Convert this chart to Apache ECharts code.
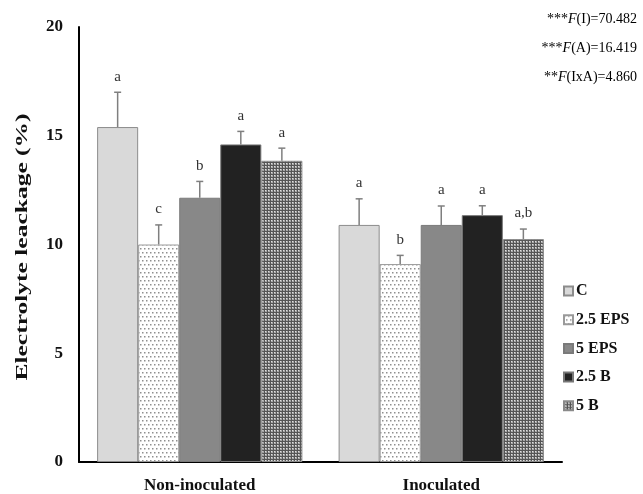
<!DOCTYPE html>
<html><head><meta charset="utf-8">
<script src="https://cdn.jsdelivr.net/npm/echarts@6/dist/echarts.min.js"></script>
<style>html,body{margin:0;padding:0;background:#fff}#c{width:643px;height:494px}</style>
</head><body><div id="c"></div>
<script>
const categories = ['Non-inoculated', 'Inoculated'];
const seriesNames = ['C', '2.5 EPS', '5 EPS', '2.5 B', '5 B'];
const valC = [15.4, 10.9];
const valEPS25 = [10.0, 9.1];
const valEPS5 = [12.15, 10.9];
const valB25 = [14.6, 11.35];
const valB5 = [13.85, 10.25];
const errC = [1.6, 1.2];
const errEPS25 = [0.9, 0.4];
const errEPS5 = [0.75, 0.87];
const errB25 = [0.6, 0.43];
const errB5 = [0.58, 0.46];
const letC = ['a', 'a'];
const letEPS25 = ['c', 'b'];
const letEPS5 = ['b', 'a'];
const letB25 = ['a', 'a'];
const letB5 = ['a', 'a,b'];
const yTicks = [0, 5, 10, 15, 20];

const values = [valC, valEPS25, valEPS5, valB25, valB5];
const errs = [errC, errEPS25, errEPS5, errB25, errB5];
const lets = [letC, letEPS25, letEPS5, letB25, letB5];

function dotPattern() {
  const c = document.createElement('canvas'); c.width = 8; c.height = 8;
  const g = c.getContext('2d');
  g.fillStyle = '#ffffff'; g.fillRect(0, 0, 8, 8);
  g.fillStyle = '#8f8f8f';
  g.fillRect(0, 0, 1.5, 1.5); g.fillRect(4, 0, 1.5, 1.5);
  g.fillRect(2, 4, 1.5, 1.5); g.fillRect(6, 4, 1.5, 1.5);
  return c;
}
function gridPattern() {
  const c = document.createElement('canvas'); c.width = 3; c.height = 3;
  const g = c.getContext('2d');
  g.fillStyle = '#555555'; g.fillRect(0, 0, 3, 3);
  g.fillStyle = '#a8a8a8'; g.fillRect(1, 1, 2, 2);
  g.fillStyle = '#e0e0e0'; g.fillRect(1, 1, 1, 1);
  return c;
}
const colors = [
  '#d9d9d9',
  { image: dotPattern(), repeat: 'repeat' },
  '#888888',
  '#222222',
  { image: gridPattern(), repeat: 'repeat' }
];
const borders = ['#8c8c8c', '#9a9a9a', '#7a7a7a', '#777777', '#8a8a8a'];
const serif = 'Liberation Serif';
const gapPct = 15;

const series = [];
seriesNames.forEach((n, i) => {
  series.push({
    name: n, type: 'bar', data: values[i],
    barGap: '0%', barCategoryGap: gapPct + '%',
    itemStyle: { color: colors[i], borderColor: borders[i], borderWidth: 1 },
    emphasis: { disabled: true }
  });
});
seriesNames.forEach((n, i) => {
  series.push({
    type: 'custom', name: n + '_err', silent: true, z: 5,
    data: values[i].map((v, k) => [k, v, errs[i][k], lets[i][k]]),
    encode: { x: 0, y: 1 },
    renderItem: function (params, api) {
      const k = api.value(0), v = api.value(1), e = api.value(2);
      const lab = lets[i][params.dataIndex];
      const base = api.coord([k, v]);
      const top = api.coord([k, v + e]);
      const catW = api.size([1, 0])[0];
      const bw = catW * (1 - gapPct / 100) / 5;
      const x = base[0] + (i - 2) * bw;
      const st = { stroke: '#7f7f7f', lineWidth: 1.5 };
      return {
        type: 'group', children: [
          { type: 'line', shape: { x1: x, y1: base[1], x2: x, y2: top[1] }, style: st },
          { type: 'line', shape: { x1: x - 3.5, y1: top[1], x2: x + 3.5, y2: top[1] }, style: st },
          { type: 'text', x: x, y: top[1] - 8, style: { text: lab, fill: '#333', font: '15px ' + serif, align: 'center', verticalAlign: 'bottom' } }
        ]
      };
    }
  });
});

function richF() {
  return {
    n: { fontFamily: serif, fontSize: 14, color: '#222' },
    i: { fontFamily: serif, fontSize: 14, fontStyle: 'italic', color: '#222' }
  };
}

const chart = echarts.init(document.getElementById('c'));
chart.setOption({
  animation: false,
  backgroundColor: '#fff',
  grid: { left: 79, right: 81, top: 27, bottom: 31, containLabel: false },
  xAxis: {
    type: 'category', data: categories,
    axisLine: { lineStyle: { color: '#000', width: 2 } },
    axisTick: { show: false },
    axisLabel: { color: '#111', fontFamily: serif, fontWeight: 'bold', fontSize: 17, margin: 15 }
  },
  yAxis: {
    type: 'value', min: yTicks[0], max: yTicks[yTicks.length - 1], interval: 5,
    axisLine: { show: true, lineStyle: { color: '#000', width: 2 } },
    axisTick: { show: false },
    splitLine: { show: false },
    axisLabel: { color: '#111', fontFamily: serif, fontWeight: 'bold', fontSize: 17, margin: 16 }
  },
  legend: {
    data: seriesNames, orient: 'vertical', left: 558, top: 278,
    icon: 'rect', itemWidth: 9, itemHeight: 9, itemGap: 12.7,
    textStyle: { color: '#111', fontFamily: serif, fontWeight: 'bold', fontSize: 16, padding: [0, 0, 0, -2] },
    selectedMode: false
  },
  graphic: [
    { type: 'text', x: 23, y: 247, rotation: Math.PI / 2, scaleX: 1.5,
      style: { text: 'Electrolyte leackage (%)', font: 'bold 17px ' + serif, fill: '#111', align: 'center', verticalAlign: 'middle' } },
    { type: 'text', right: 6, top: 12, style: { rich: richF(), text: '{n|***}{i|F}{n|(I)=70.482}' } },
    { type: 'text', right: 6, top: 41, style: { rich: richF(), text: '{n|***}{i|F}{n|(A)=16.419}' } },
    { type: 'text', right: 6, top: 70, style: { rich: richF(), text: '{n|**}{i|F}{n|(IxA)=4.860}' } }
  ],
  series: series
});
</script></body></html>
